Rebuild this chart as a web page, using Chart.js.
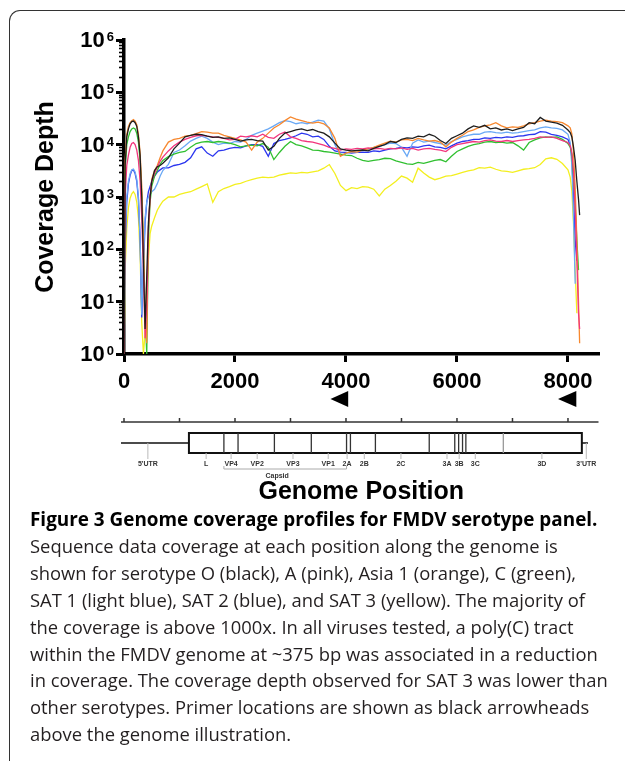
<!DOCTYPE html>
<html>
<head>
<meta charset="utf-8">
<script src="https://cdn.jsdelivr.net/npm/chart.js@4.4.1/dist/chart.umd.min.js"></script>
<style>
  html, body { margin: 0; padding: 0; background: #fff; width: 625px; height: 761px; overflow: hidden; }
  #frame { position: absolute; left: 9px; top: 10px; width: 700px; height: 800px;
           border-left: 1.5px solid #333; border-top: 1.5px solid #333; border-top-left-radius: 11px; }
  #chart { position: absolute; left: 0; top: 0; }
  #caption { position: absolute; left: 30px; top: 506px; font: 18.4px "Open Sans", sans-serif;
             line-height: 26.9px; color: #231f20; white-space: nowrap; }
  #caption b { color: #000; font-size: 18.9px; }
</style>
</head>
<body>
<div id="frame"></div>
<canvas id="chart" width="625" height="512"></canvas>
<div id="caption"><b>Figure 3 Genome coverage profiles for FMDV serotype panel.</b><br>Sequence data coverage at each position along the genome is<br>shown for serotype O (black), A (pink), Asia 1 (orange), C (green),<br>SAT 1 (light blue), SAT 2 (blue), and SAT 3 (yellow). The majority of<br>the coverage is above 1000x. In all viruses tested, a poly(C) tract<br>within the FMDV genome at ~375 bp was associated in a reduction<br>in coverage. The coverage depth observed for SAT 3 was lower than<br>other serotypes. Primer locations are shown as black arrowheads<br>above the genome illustration.</div>
<script>
// Coverage depth per genome position, one array per serotype.
const positions = [0, 20, 50, 80, 110, 140, 170, 200, 230, 260, 290, 320, 350, 380, 410, 440, 470, 500, 550, 600, 650, 700, 800, 900,
  1000, 1100, 1200, 1300, 1400, 1500, 1600, 1700, 1800, 1900, 2000, 2100, 2200, 2300, 2400, 2500, 2600, 2700, 2800, 2900,
  3000, 3100, 3200, 3300, 3400, 3500, 3600, 3700, 3800, 3900, 4000, 4100, 4200, 4300, 4400, 4500, 4600, 4700, 4800, 4900,
  5000, 5100, 5200, 5300, 5400, 5500, 5600, 5700, 5800, 5900, 6000, 6100, 6200, 6300, 6400, 6500, 6600, 6700, 6800, 6900,
  7000, 7100, 7200, 7300, 7400, 7500, 7600, 7700, 7800, 7900, 8000, 8040, 8070, 8100, 8130, 8160, 8190, 8210];

const serotypeO = [1, 4000, 14100, 20000, 25100, 27500, 28200, 26300, 22400, 14100, 6300, 1000, 63, 3, 32, 320, 1000, 2000, 3200, 3800, 4000, 4400, 5600, 8300,
  10700, 14100, 15100, 15800, 15500, 14500, 13800, 14100, 13200, 13500, 12600, 11700, 12300, 12600, 12000, 11700, 7900, 9300, 13200, 16600,
  17800, 19100, 20000, 18600, 19500, 17800, 16600, 14100, 10700, 8300, 7900, 7600, 7800, 7900, 7600, 8500, 9300, 10000, 11500, 11000,
  12600, 13500, 13200, 14500, 14100, 15800, 14500, 12000, 10500, 13200, 14800, 16600, 20000, 22900, 21400, 23400, 20000, 20900, 19100, 20000,
  18600, 20000, 21400, 26300, 25100, 33100, 28200, 26900, 25700, 23400, 19100, 17000, 14000, 9000, 5000, 2000, 900, 450];

const serotypeA = [1, 1000, 4000, 6300, 8900, 10500, 11000, 10000, 7900, 5000, 2000, 400, 40, 2, 8, 250, 1000, 2000, 2800, 3700, 4800, 5800, 7600, 9500,
  11200, 12600, 13800, 14800, 15100, 14500, 14100, 13800, 13200, 12300, 12600, 14500, 14100, 14800, 14100, 15800, 13800, 13200, 15800, 17400,
  14100, 13200, 12000, 11500, 11200, 10500, 9800, 8900, 8500, 7900, 8300, 8100, 8500, 8300, 8700, 8300, 8500, 8100, 8500, 8300,
  8700, 8100, 8500, 7900, 8300, 8500, 8100, 7900, 7400, 8900, 10000, 10500, 11000, 11500, 11200, 12000, 12300, 11700, 11500, 12000,
  11500, 12000, 12300, 12600, 13200, 14100, 13800, 14100, 13200, 12000, 11000, 9500, 7000, 3000, 600, 60, 6, 3];

const asia1 = [1, 5000, 15800, 22400, 26300, 28800, 30200, 28200, 24000, 15800, 7100, 1600, 160, 6, 1.6, 250, 1000, 2200, 3200, 4000, 5600, 7600, 11200, 12600,
  13200, 14500, 15100, 16200, 17800, 17400, 16600, 16600, 15100, 14100, 13200, 12300, 11200, 7900, 11200, 13200, 16600, 20900, 24000, 28800,
  33900, 30900, 28800, 26900, 25700, 26900, 25100, 20900, 13200, 6000, 6900, 7400, 7200, 7900, 8300, 8900, 9800, 10700, 11700, 11200,
  12300, 12600, 12000, 13200, 12300, 11700, 12000, 11200, 9100, 11200, 13200, 15100, 17800, 19100, 21400, 22900, 24000, 26300, 22900, 20900,
  21900, 21400, 22900, 25100, 26300, 28200, 29500, 28200, 27500, 26300, 22900, 21000, 16000, 7000, 1500, 150, 10, 1.6];

const serotypeC = [1, 3200, 10000, 14100, 17800, 20000, 20900, 20000, 16600, 11200, 5000, 1000, 100, 6, 1, 160, 800, 1600, 2500, 3200, 4200, 5000, 5900, 6600,
  7100, 7400, 8900, 10500, 11200, 11500, 11000, 11500, 11200, 10700, 10000, 9100, 9500, 9800, 9500, 10500, 8900, 5200, 7100, 9300,
  11500, 10000, 9500, 8700, 7900, 7800, 7400, 7200, 6900, 6600, 6300, 6200, 5500, 5000, 4800, 5000, 5200, 5500, 5400, 4900,
  4600, 4300, 4200, 4600, 4400, 4700, 5000, 5200, 4700, 6000, 7400, 8300, 9300, 10000, 10500, 11200, 11500, 11000, 11200, 10700,
  11000, 9500, 7900, 11000, 12300, 13500, 14100, 13800, 14100, 12600, 10500, 9000, 6500, 2500, 700, 150, 40, null];

const sat1 = [1.6, 160, 1000, 2000, 2800, 3300, 3400, 3000, 2200, 1000, 160, 5.6, 63, 400, 800, 1000, 1100, 1260, 1400, 1800, 2500, 3200, 4200, 7100,
  7900, 9500, 11700, 13200, 14500, 13200, 11200, 10000, 10700, 10500, 11500, 11200, 12600, 15100, 16600, 18200, 20000, 22900, 26300, 28800,
  27500, 25100, 26300, 25100, 26900, 29500, 28200, 20000, 10000, 6300, 6800, 7400, 7200, 7900, 8100, 8900, 9300, 10000, 10700, 10500,
  8900, 6000, 10700, 12300, 11200, 11700, 11000, 10500, 9800, 11500, 12600, 14100, 15100, 15800, 15800, 17400, 17800, 17000, 16600, 17400,
  16600, 17000, 17800, 18600, 19100, 20900, 21900, 20900, 20400, 19100, 15800, 11000, 4000, 400, 22, null, null, null];

const sat2 = [2, 100, 800, 1800, 2600, 3200, 3300, 2800, 2000, 900, 160, 5, 40, 320, 800, 1260, 1600, 2000, 2500, 3000, 3300, 3600, 3600, 4000,
  4200, 4600, 5600, 8300, 9100, 6900, 6000, 7600, 7900, 8500, 8900, 8700, 9500, 10000, 10000, 9300, 6000, 10500, 12000, 12600,
  13500, 14800, 16600, 15800, 14100, 14500, 12600, 9300, 7600, 7200, 7100, 6900, 7100, 7200, 7100, 7600, 7400, 7900, 8300, 8500,
  8900, 8700, 9100, 8900, 9500, 9800, 9100, 8900, 8300, 9500, 10700, 11500, 12000, 12600, 12600, 13500, 13200, 13800, 13500, 14100,
  13800, 14500, 14800, 15500, 15800, 17800, 17400, 15800, 15100, 14100, 12600, 10000, 5500, 1000, 150, 60, null, null];

const sat3 = [1, 40, 250, 630, 950, 1150, 1260, 1120, 800, 400, 80, 4, 1, 2.5, 16, 63, 200, 280, 400, 560, 690, 830, 1000, 1000,
  1120, 1200, 1260, 1410, 1580, 1780, 790, 1260, 1450, 1580, 1740, 1820, 2000, 2140, 2290, 2400, 2340, 2400, 2630, 2750,
  2880, 2820, 2950, 2880, 3020, 3160, 3550, 4170, 2820, 1660, 1320, 1510, 1450, 1580, 1550, 1410, 1050, 1410, 1660, 2000,
  2510, 2290, 1910, 3550, 2880, 2400, 2140, 2290, 2510, 2570, 2750, 2950, 3160, 3310, 3630, 3550, 3720, 3390, 3160, 3090,
  2950, 3160, 3390, 3470, 3630, 4170, 5370, 5620, 5250, 4370, 3310, 2400, 1300, 300, 40, 6, null, null];

const xTicks = [0, 2000, 4000, 6000, 8000];
const yTicks = [1, 10, 100, 1000, 10000, 100000, 1000000];
const yTickBase = '10';
const yTickExponents = ['0', '1', '2', '3', '4', '5', '6'];
const yMinorTicks = [2, 3, 4, 5, 6, 7, 8, 9, 20, 30, 40, 50, 60, 70, 80, 90,
  200, 300, 400, 500, 600, 700, 800, 900, 2000, 3000, 4000, 5000, 6000, 7000, 8000, 9000,
  20000, 30000, 40000, 50000, 60000, 70000, 80000, 90000, 200000, 300000, 400000, 500000, 600000, 700000, 800000, 900000];

// Genome map (bp)
const rulerRange = [0, 8550];
const rulerTicks = [0, 1000, 2000, 3000, 4000, 5000, 6000, 7000, 8000];
const genomeRange = [0, 8360];
const orfRange = [1170, 8250];
const geneBoundaries = [1800, 2055, 2710, 3375, 4010, 4080, 4530, 5500, 5960, 6030, 6100, 6160];
const faintBoundaries = [6835];
const geneLabels = ["5'UTR", 'L', 'VP4', 'VP2', 'VP3', 'VP1', '2A', '2B', '2C', '3A', '3B', '3C', '3D', "3'UTR"];
const geneLabelPos = [430, 1480, 1930, 2400, 3045, 3680, 4020, 4330, 4990, 5820, 6040, 6330, 7530, 8330];
const capsidRange = [1800, 4010];
const capsidLabelPos = 2760;
const primerSites = [[3720, 4040], [7820, 8150]];

const series = [
  { label: 'O', values: serotypeO, color: '#1e1e1e' },
  { label: 'A', values: serotypeA, color: '#f2367d' },
  { label: 'Asia 1', values: asia1, color: '#f7882f' },
  { label: 'C', values: serotypeC, color: '#30c030' },
  { label: 'SAT 1', values: sat1, color: '#6aa9f5' },
  { label: 'SAT 2', values: sat2, color: '#2b36ef' },
  { label: 'SAT 3', values: sat3, color: '#f3ef1f' },
];

const FONT = '"Liberation Sans", Arial, sans-serif';
Chart.defaults.font.family = FONT;
Chart.defaults.color = '#000';

// minor log ticks and "10" + superscript labels on the y axis
const yAxisDecor = {
  id: 'yAxisDecor',
  afterDraw(chart) {
    const { ctx, chartArea } = chart;
    const y = chart.scales.y;
    ctx.save();
    ctx.strokeStyle = '#000';
    ctx.lineWidth = 1.6;
    yMinorTicks.forEach(v => {
      const py = Math.round(y.getPixelForValue(v)) + 0.5;
      ctx.beginPath();
      ctx.moveTo(chartArea.left - 5, py);
      ctx.lineTo(chartArea.left, py);
      ctx.stroke();
    });
    ctx.fillStyle = '#000';
    yTicks.forEach((v, i) => {
      const py = y.getPixelForValue(v);
      const right = chartArea.left - 10;
      ctx.font = 'bold 13px ' + FONT;
      ctx.textAlign = 'right';
      ctx.textBaseline = 'alphabetic';
      const ew = ctx.measureText(yTickExponents[i]).width;
      ctx.fillText(yTickExponents[i], right, py + 1);
      ctx.font = 'bold 22px ' + FONT;
      ctx.textBaseline = 'middle';
      ctx.fillText(yTickBase, right - ew - 2, py + 1);
    });
    ctx.restore();
  }
};

const genomeMap = {
  id: 'genomeMap',
  afterDraw(chart) {
    const { ctx, chartArea } = chart;
    const px = v => chart.scales.x.getPixelForValue(v);
    const b = chartArea.bottom;
    ctx.save();

    // primer arrowheads
    ctx.fillStyle = '#000';
    primerSites.forEach(([s, e]) => {
      ctx.beginPath();
      ctx.moveTo(px(s), b + 45);
      ctx.lineTo(px(e), b + 37);
      ctx.lineTo(px(e), b + 53);
      ctx.closePath();
      ctx.fill();
    });

    // ruler
    ctx.strokeStyle = '#333';
    ctx.lineWidth = 1.5;
    ctx.beginPath();
    ctx.moveTo(px(rulerRange[0]) - 3, b + 68);
    ctx.lineTo(px(rulerRange[1]), b + 68);
    ctx.stroke();
    rulerTicks.forEach(t => {
      ctx.beginPath();
      ctx.moveTo(px(t), b + 68);
      ctx.lineTo(px(t), b + 64);
      ctx.stroke();
    });

    // genome line + polyprotein box
    ctx.strokeStyle = '#111';
    ctx.lineWidth = 1.5;
    ctx.beginPath();
    ctx.moveTo(px(genomeRange[0]) - 3, b + 89);
    ctx.lineTo(px(orfRange[0]), b + 89);
    ctx.moveTo(px(orfRange[1]), b + 89);
    ctx.lineTo(px(genomeRange[1]), b + 89);
    ctx.stroke();
    ctx.lineWidth = 2;
    ctx.strokeRect(px(orfRange[0]), b + 79, px(orfRange[1]) - px(orfRange[0]), 20);

    ctx.lineWidth = 1.3;
    ctx.strokeStyle = '#333';
    geneBoundaries.forEach(g => {
      ctx.beginPath();
      ctx.moveTo(px(g), b + 79);
      ctx.lineTo(px(g), b + 99);
      ctx.stroke();
    });
    ctx.strokeStyle = '#999';
    faintBoundaries.forEach(g => {
      ctx.beginPath();
      ctx.moveTo(px(g), b + 79);
      ctx.lineTo(px(g), b + 99);
      ctx.stroke();
    });

    // leaders + labels
    ctx.strokeStyle = '#bbb';
    ctx.lineWidth = 1;
    geneLabelPos.forEach((p, i) => {
      const top = (i === 0 || i === geneLabelPos.length - 1) ? b + 89 : b + 99;
      ctx.beginPath();
      ctx.moveTo(px(p), top);
      ctx.lineTo(px(p), b + 105);
      ctx.stroke();
    });
    ctx.fillStyle = '#333';
    ctx.font = 'bold 7px ' + FONT;
    ctx.textAlign = 'center';
    ctx.textBaseline = 'middle';
    geneLabels.forEach((t, i) => ctx.fillText(t, px(geneLabelPos[i]), b + 110));

    // capsid bracket
    ctx.strokeStyle = '#aaa';
    ctx.beginPath();
    ctx.moveTo(px(capsidRange[0]), b + 112);
    ctx.lineTo(px(capsidRange[0]), b + 115);
    ctx.lineTo(px(capsidRange[1]), b + 115);
    ctx.lineTo(px(capsidRange[1]), b + 112);
    ctx.stroke();
    ctx.fillText('Capsid', px(capsidLabelPos), b + 122);

    ctx.restore();
  }
};

new Chart(document.getElementById('chart'), {
  type: 'line',
  data: {
    datasets: series.map(s => ({
      label: s.label,
      data: positions.map((p, i) => ({ x: p, y: s.values[i] })),
      borderColor: s.color,
      borderWidth: 1.3,
      pointRadius: 0,
      tension: 0,
      spanGaps: false,
    })),
  },
  options: {
    responsive: false,
    animation: false,
    layout: { padding: { top: 40, right: 26.5, left: 0, bottom: 0 } },
    plugins: { legend: { display: false }, tooltip: { enabled: false } },
    scales: {
      x: {
        type: 'linear', min: 0, max: 8550,
        afterBuildTicks: sc => { sc.ticks = xTicks.map(v => ({ value: v })); },
        afterFit: sc => { sc.height = 158; },
        grid: { drawOnChartArea: false, color: '#000', lineWidth: 3, tickLength: 8 },
        border: { color: '#000', width: 3.5 },
        ticks: { callback: v => String(v), font: { size: 22, weight: 'bold' }, padding: 7, maxRotation: 0, autoSkip: false },
        title: { display: true, text: 'Genome Position', font: { size: 25, weight: 'bold' }, padding: { top: 0, bottom: 5 } },
      },
      y: {
        type: 'logarithmic', min: 1, max: 1000000,
        afterBuildTicks: sc => { sc.ticks = yTicks.map(v => ({ value: v })); },
        afterFit: sc => { sc.width = 124; },
        grid: { drawOnChartArea: false, color: '#000', lineWidth: 3, tickLength: 8 },
        border: { color: '#000', width: 3.5 },
        ticks: { display: false },
        title: { display: true, text: 'Coverage Depth', font: { size: 25, weight: 'bold' }, padding: { top: 31, bottom: 0 } },
      },
    },
  },
  plugins: [yAxisDecor, genomeMap],
});
</script>
</body>
</html>
